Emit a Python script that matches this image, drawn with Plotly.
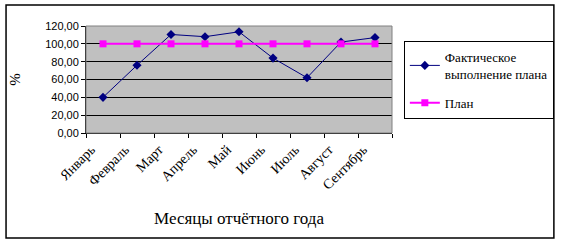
import plotly.graph_objects as go

months = ["Январь", "Февраль", "Март", "Апрель", "Май", "Июнь", "Июль", "Август", "Сентябрь"]
actual = [40.0, 76.0, 110.5, 108.0, 113.5, 84.0, 62.0, 102.0, 107.0]
plan = [100, 100, 100, 100, 100, 100, 100, 100, 100]
yticks = [0, 20, 40, 60, 80, 100, 120]

W, H = 566, 243
L, R, T, B = 86, 396, 26, 133
SERIF = "Liberation Serif, Times New Roman, serif"

def px_x(p):
    return (p - L) / (R - L)

def px_y(p):
    return (B - p) / (B - T)

fig = go.Figure()
fig.add_trace(go.Scatter(
    x=months, y=actual, mode="lines+markers",
    name="Фактическое<br>выполнение плана", legendgroup="a",
    line=dict(color="#000080", width=1),
    marker=dict(symbol="diamond", size=7, color="#000080"),
))
fig.add_trace(go.Scatter(
    x=months, y=plan, mode="lines+markers", name="План", legendgroup="b",
    line=dict(color="#FF00FF", width=2),
    marker=dict(symbol="square", size=7, color="#FF00FF"),
))

fig.update_layout(
    width=W, height=H,
    margin=dict(l=L, r=W - R, t=T, b=H - B, pad=0),
    paper_bgcolor="white",
    plot_bgcolor="#C0C0C0",
    separators=", ",
    font=dict(family=SERIF, size=13, color="black"),
    showlegend=True,
    legend=dict(
        x=px_x(408), y=px_y(41), xanchor="left", yanchor="top",
        bordercolor="black", borderwidth=1, bgcolor="white",
        font=dict(family=SERIF, size=13),
        itemwidth=30, tracegroupgap=9,
    ),
    xaxis=dict(
        type="category", tickson="boundaries", ticks="outside", ticklen=4,
        tickcolor="black", showline=True, linecolor="black", linewidth=1,
        showgrid=False, tickangle=-45, ticklabelshift=-12, ticklabelstandoff=2,
        tickfont=dict(family=SERIF, size=14),
        title=dict(text="Месяцы отчётного года", standoff=20,
                   font=dict(family=SERIF, size=17)),
        range=[-0.5, len(months) - 0.5],
    ),
    yaxis=dict(
        range=[0, 120], tickvals=yticks, tickformat=".2f",
        ticks="outside", ticklen=4, tickcolor="black",
        showline=True, linecolor="black", linewidth=1,
        showgrid=True, gridcolor="black", gridwidth=1,
        tickfont=dict(family="Liberation Sans", size=11),
        title=dict(text="%", standoff=20,
                   font=dict(family=SERIF, size=15)),
        zeroline=False,
    ),
    shapes=[
        dict(type="rect", xref="paper", yref="paper",
             x0=0, x1=1, y0=0, y1=1,
             line=dict(color="#808080", width=1), layer="above"),
        dict(type="rect", xref="paper", yref="paper",
             x0=px_x(5), x1=px_x(560), y0=px_y(238), y1=px_y(5),
             line=dict(color="black", width=1.5), layer="above"),
    ],
)

fig.write_html("out.html")
